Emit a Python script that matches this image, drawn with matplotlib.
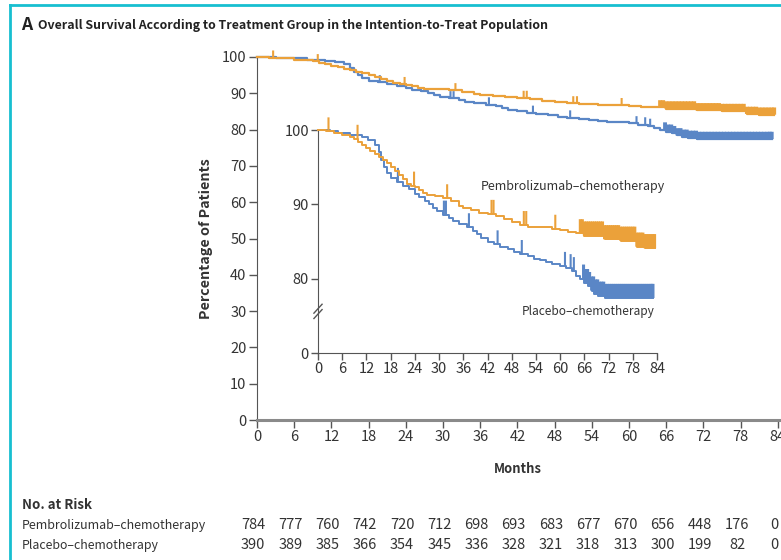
import numpy as np
import matplotlib.pyplot as plt
from matplotlib.transforms import blended_transform_factory

# Source-Sans style latin glyphs from the CJK family, DejaVu as backup
plt.rcParams['font.family'] = ['Noto Sans CJK JP', 'DejaVu Sans']

# Kaplan-Meier step points (month, percent surviving)
pembro_t = [0, 2, 4, 6, 8, 9, 10, 11, 12, 13, 14, 15, 16, 17, 18, 19, 20, 21, 22, 23,
            24, 25, 26, 27, 29, 31, 33, 35, 36, 38, 40, 42, 44, 46, 48, 50, 52, 55,
            58, 60, 62, 64, 66, 71, 75, 79, 81, 83.4]
pembro_s = [100, 99.8, 99.6, 99.3, 99.1, 98.8, 98.4, 98.0, 97.6, 97.2, 96.8, 96.4, 96.0,
            95.5, 95.0, 94.5, 94.0, 93.4, 92.8, 92.5, 92.3, 91.9, 91.5, 91.3, 91.1, 90.8,
            90.4, 89.8, 89.5, 89.3, 88.9, 88.7, 88.4, 88.0, 87.6, 87.2, 87.0, 86.9, 86.7,
            86.5, 86.3, 86.1, 85.8, 85.3, 85.1, 84.3, 84.1, 84.1]

placebo_t = [0, 3, 5, 8, 11, 12.5, 14, 15, 15.7, 16.3, 17, 18, 19.5, 21, 22.5, 24, 25,
             26.5, 27.5, 28.5, 29.5, 31, 32.5, 33.5, 35, 37, 38.5, 39.5, 40.5, 42, 43.5,
             45, 47, 48.5, 50, 52, 53.5, 55, 56.5, 58, 60, 61.5, 63, 64, 65, 66, 67,
             67.8, 68.5, 69.5, 71, 83.0]
placebo_s = [100, 99.8, 99.6, 99.3, 99.0, 98.6, 98.0, 97.0, 96.0, 95.0, 94.2, 93.5, 93.0,
             92.5, 92.0, 91.4, 91.0, 90.5, 90.0, 89.5, 89.1, 88.6, 88.1, 87.7, 87.3, 86.9,
             86.4, 86.0, 85.5, 85.0, 84.6, 84.3, 84.0, 83.6, 83.3, 83.0, 82.7, 82.5, 82.2,
             82.0, 81.7, 81.4, 81.0, 80.4, 80.0, 79.4, 79.0, 78.4, 78.0, 77.7, 77.4, 77.4]

# censored observations (months)
pembro_cens = [2.6, 9.8, 23.8, 32.0, 43.0, 43.5, 51.0, 51.6, 58.8,
               65.0, 65.5, 66.0, 66.5, 67.0, 67.5, 68.0, 68.5, 69.0, 69.5, 70.0, 70.5,
               71.0, 71.5, 72.0, 72.5, 73.0, 73.5, 74.0, 74.5, 75.0, 75.5, 76.0, 76.5,
               77.0, 77.5, 78.0, 78.5, 79.0, 79.5, 80.0, 80.5, 81.0, 81.5, 82.0, 82.5,
               83.0, 83.4]
placebo_cens = [19.8, 31.2, 31.7, 37.4, 44.5, 50.5, 61.2, 62.6, 63.4,
                65.8, 66.3, 66.8, 67.3, 67.8, 68.3, 68.8, 69.3, 69.8, 70.3, 70.8, 71.3,
                71.8, 72.3, 72.8, 73.3, 73.8, 74.3, 74.8, 75.3, 75.8, 76.3, 76.8, 77.3,
                77.8, 78.3, 78.8, 79.3, 79.8, 80.3, 80.8, 81.3, 81.8, 82.3, 82.7, 83.0]

risk_months = [0, 6, 12, 18, 24, 30, 36, 42, 48, 54, 60, 66, 72, 78, 84]
risk_pembro = [784, 777, 760, 742, 720, 712, 698, 693, 683, 677, 670, 656, 448, 176, 0]
risk_placebo = [390, 389, 385, 366, 354, 345, 336, 328, 321, 318, 313, 300, 199, 82, 0]

ORANGE = '#EBA13A'
BLUE = '#5A86C6'
AXC = '#555555'
TXT = '#333333'
TICK_FS = 10.5


def value_at(ts, ss, t):
    idx = np.searchsorted(ts, t, side='right') - 1
    return np.asarray(ss)[idx]


def draw_km(ax, lw, tick_h, dense_lw):
    # step curves plus upward censoring ticks of height tick_h (data units);
    # ticks inside a run of close neighbours get a wider stroke so they merge
    for ts, ss, cens, col in ((placebo_t, placebo_s, placebo_cens, BLUE),
                              (pembro_t, pembro_s, pembro_cens, ORANGE)):
        ax.step(ts, ss, where='post', color=col, lw=lw, clip_on=False, zorder=3)
        c = np.asarray(cens)
        base = value_at(ts, ss, c)
        neighbours = (np.abs(c[:, None] - c[None, :]) <= 1.05).sum(axis=1) - 1
        widths = np.where(neighbours >= 2, dense_lw, 1.5)
        vl = ax.vlines(c, base, base + tick_h, color=col, linewidths=widths,
                       zorder=3, clip_on=False)
        vl.set_snap(False)


W, H = 781, 560
fig = plt.figure(figsize=(W / 100, H / 100), dpi=100)
renderer = fig.canvas.get_renderer()


def fit(txt, size_px, vertical=False):
    # scale the font so the text spans the given pixel length
    bb = txt.get_window_extent(renderer)
    n = bb.height if vertical else bb.width
    txt.set_fontsize(txt.get_fontsize() * size_px / n)
    return txt


# frame lines along top and left
fig.add_artist(plt.Line2D([10 / W, 1], [1 - 5 / H, 1 - 5 / H], color='#17BFD0', lw=2))
fig.add_artist(plt.Line2D([10 / W, 10 / W], [0, 1 - 5 / H], color='#17BFD0', lw=2))

# main axes
ax = fig.add_axes([257 / W, 1 - 420 / H, (W - 257) / W, 363 / H])
draw_km(ax, 1.6, 2.0, 2.8)
ax.set_xlim(0, 84.5)
ax.set_ylim(0, 100)
ax.set_xticks(risk_months)
ax.set_yticks(range(0, 101, 10))
for s in ('top', 'right'):
    ax.spines[s].set_visible(False)
ax.spines['left'].set_color(AXC)
ax.spines['bottom'].set_color('#8a8a8a')
ax.spines['bottom'].set_linewidth(2.2)
ax.tick_params(colors=AXC, labelcolor=TXT, labelsize=TICK_FS, length=6, width=1, pad=1.5)
xl = ax.set_xlabel('Months', fontsize=11, fontweight='bold', color=TXT)
yl = ax.set_ylabel('Percentage of Patients', fontsize=11, fontweight='bold', color=TXT)
ax.xaxis.set_label_coords((518 - 257) / (W - 257), -(462 - 420) / 363)
ax.yaxis.set_label_coords(-(257 - 213) / (W - 257), 0.5)
fit(xl, 48)
fit(yl, 160, vertical=True)

# inset with broken y axis (70 stands in for 0)
axi = fig.add_axes([318 / W, 1 - 353 / H, 339 / W, 223 / H])
draw_km(axi, 1.4, 1.9, 2.2)
axi.set_xlim(0, 84)
axi.set_ylim(70, 100)
axi.set_xticks(risk_months)
axi.set_yticks([70, 80, 90, 100])
axi.set_yticklabels(['0', '80', '90', '100'])
for s in ('top', 'right'):
    axi.spines[s].set_visible(False)
for s in ('left', 'bottom'):
    axi.spines[s].set_color(AXC)
axi.patch.set_alpha(0)
axi.tick_params(colors=AXC, labelcolor=TXT, labelsize=TICK_FS, length=5, width=1, pad=1.5)
yb = (75.6 - 70) / 30
for dy in (-0.012, 0.012):
    axi.plot([-0.012, 0.012], [yb + dy - 0.02, yb + dy + 0.02], transform=axi.transAxes,
             color=AXC, lw=1, clip_on=False)
fit(fig.text(665 / W, 1 - 187 / H, 'Pembrolizumab\u2013chemotherapy', fontsize=10,
             color=TXT, ha='right', va='center'), 185)
fit(fig.text(655 / W, 1 - 311 / H, 'Placebo\u2013chemotherapy', fontsize=10,
             color=TXT, ha='right', va='center'), 133)

# title
fig.text(21 / W, 1 - 25 / H, 'A', fontsize=12.5, fontweight='bold', color='#222222', va='center')
fit(fig.text(38 / W, 1 - 25 / H,
             'Overall Survival According to Treatment Group in the Intention-to-Treat Population',
             fontsize=12, fontweight='bold', color='#222222', va='center'), 511)

# number at risk
fit(fig.text(22 / W, 1 - 505 / H, 'No. at Risk', fontsize=11, fontweight='bold',
             color=TXT, va='center'), 70)
fit(fig.text(22 / W, 1 - 525 / H, 'Pembrolizumab\u2013chemotherapy', fontsize=10,
             color=TXT, va='center'), 185)
fit(fig.text(22 / W, 1 - 545 / H, 'Placebo\u2013chemotherapy', fontsize=10,
             color=TXT, va='center'), 138)
tr = blended_transform_factory(ax.transData, fig.transFigure)
for m, a, b in zip(risk_months, risk_pembro, risk_placebo):
    ax.text(m - 0.6, 1 - 525 / H, str(a), transform=tr, ha='center', va='center',
            fontsize=TICK_FS, color=TXT, clip_on=False)
    ax.text(m - 0.6, 1 - 545 / H, str(b), transform=tr, ha='center', va='center',
            fontsize=TICK_FS, color=TXT, clip_on=False)

fig.savefig('out.png', dpi=100)
